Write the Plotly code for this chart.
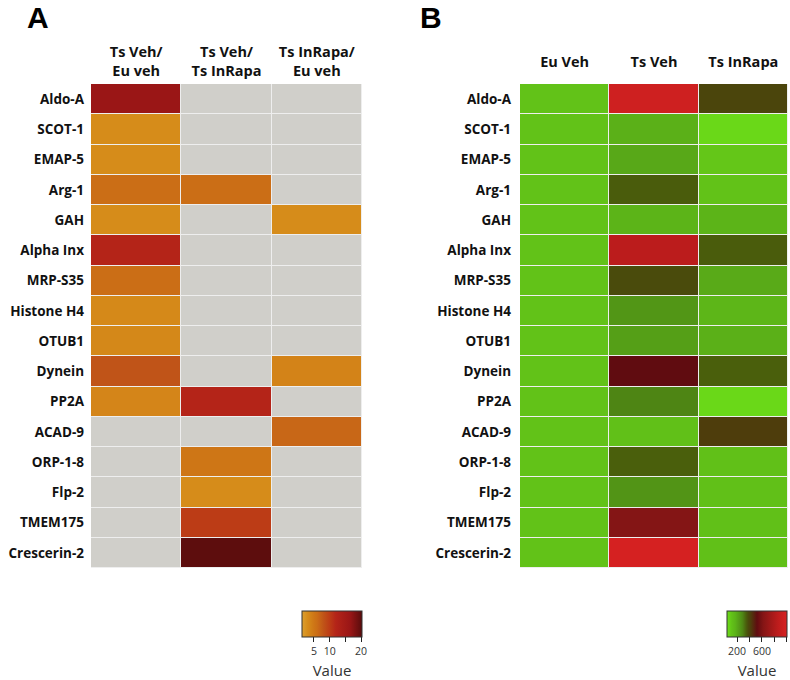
import plotly.graph_objects as go

genes = ["Aldo-A", "SCOT-1", "EMAP-5", "Arg-1", "GAH", "Alpha Inx", "MRP-S35",
         "Histone H4", "OTUB1", "Dynein", "PP2A", "ACAD-9", "ORP-1-8", "Flp-2",
         "TMEM175", "Crescerin-2"]

cols_a = ["Ts Veh/<br>Eu veh", "Ts Veh/<br>Ts InRapa", "Ts InRapa/<br>Eu veh"]
a_tsveh_euveh = [16.5, 3, 3, 6, 3, 12, 6, 3.3, 3.4, 8, 3.6, None, None, None, None, None]
a_tsveh_tsinrapa = [None, None, None, 6, None, None, None, None, None, None, 12, None, 5, 3, 10, 20]
a_tsinrapa_euveh = [None, None, None, None, 3, None, None, None, None, 3.8, None, 6.5, None, None, None, None]

cols_b = ["Eu Veh", "Ts Veh", "Ts InRapa"]
b_euveh = [110] * 16
b_tsveh = [950, 180, 200, 350, 170, 850, 380, 250, 225, 520, 290, 120, 345, 255, 620, 990]
b_tsinrapa = [395, 55, 100, 110, 170, 350, 195, 160, 180, 345, 55, 420, 120, 120, 120, 120]

a_ticks = [5, 10, 15, 20]
a_ticktext = ["5", "10", "", "20"]
b_ticks = [200, 400, 600, 800, 1000]
b_ticktext = ["200", "", "600", "", ""]

zA = [[a_tsveh_euveh[i], a_tsveh_tsinrapa[i], a_tsinrapa_euveh[i]] for i in range(len(genes))]
naA = [[1 if v is None else None for v in row] for row in zA]
zB = [[b_euveh[i], b_tsveh[i], b_tsinrapa[i]] for i in range(len(genes))]

scaleA = [[0, '#DCA030'], [0.094, '#D68C1A'], [0.2, '#CE7616'], [0.25, '#CB6E16'],
          [0.356, '#C05418'], [0.46, '#BC3C16'], [0.565, '#B42418'], [0.8, '#9A1616'],
          [1, '#580C0C']]
scaleB = [[0, '#72E020'], [0.019, '#6AD818'], [0.076, '#62C218'], [0.138, '#5CB418'],
          [0.169, '#58A818'], [0.221, '#529616'], [0.263, '#4E8414'], [0.32, '#4A5E0C'],
          [0.356, '#4A4A0C'], [0.398, '#4E3C0C'], [0.5, '#600C10'], [0.605, '#851515'],
          [0.844, '#BC1C1C'], [1, '#D82222']]

W, H = 790, 680


def px(x):
    return x / W


def py(y):
    return 1 - y / H


FONT = "Open Sans"
rowfont = dict(family=FONT, size=13.5, color="#111111", weight="bold")
colfont = dict(family=FONT, size=14.5, color="#111111", weight="bold")


def cbar(xc, tv, tt):
    return dict(orientation="h", lenmode="pixels", len=60,
                thickness=26, x=px(xc), xanchor="center",
                y=py(611), yanchor="top", xpad=0, ypad=0,
                outlinewidth=1, outlinecolor="#333333",
                tickvals=tv, ticktext=tt,
                ticks="outside", ticklen=5, tickcolor="#222222",
                tickfont=dict(family=FONT, size=10.5, color="#333333"),
                title=dict(text="Value", side="bottom",
                           font=dict(family=FONT, size=15, color="#333333")))


fig = go.Figure()
fig.add_trace(go.Heatmap(z=naA, x=cols_a, y=genes, xaxis="x", yaxis="y",
                         colorscale=[[0, '#D0CFCA'], [1, '#D0CFCA']], showscale=False,
                         xgap=1, ygap=1, hoverinfo="skip"))
fig.add_trace(go.Heatmap(z=zA, x=cols_a, y=genes, xaxis="x", yaxis="y",
                         colorscale=scaleA, zmin=1.2, zmax=20.3, xgap=1, ygap=1,
                         colorbar=cbar(332, a_ticks, a_ticktext)))
fig.add_trace(go.Heatmap(z=zB, x=cols_b, y=genes, xaxis="x2", yaxis="y2",
                         colorscale=scaleB, zmin=37, zmax=1005, xgap=1, ygap=1,
                         colorbar=cbar(757, b_ticks, b_ticktext)))

common = dict(showgrid=False, zeroline=False, ticks="", automargin=False)
fig.update_layout(
    width=W, height=H, margin=dict(l=0, r=0, t=0, b=0, autoexpand=False),
    paper_bgcolor="white", plot_bgcolor="#EEEEEE",
    font=dict(family=FONT, size=13, color="#111111"),
    xaxis=dict(domain=[px(91), px(362)], side="top", ticklabelstandoff=4, anchor="y",
               tickfont=colfont, **common),
    yaxis=dict(domain=[py(568), py(84)], autorange="reversed", ticklabelstandoff=6, anchor="x",
               tickfont=rowfont, **common),
    xaxis2=dict(domain=[px(520), px(788)], side="top", ticklabelstandoff=13, anchor="y2",
                tickfont=colfont, **common),
    yaxis2=dict(domain=[py(568), py(84)], autorange="reversed", ticklabelstandoff=8, anchor="x2",
                tickfont=rowfont, **common),
    annotations=[
        dict(text="<b>A</b>", x=px(38), y=1, xref="paper", yref="paper",
             xanchor="center", yanchor="top", showarrow=False, borderpad=0,
             font=dict(family="Liberation Sans", size=30, color="black")),
        dict(text="<b>B</b>", x=px(431), y=1, xref="paper", yref="paper",
             xanchor="center", yanchor="top", showarrow=False, borderpad=0,
             font=dict(family="Liberation Sans", size=30, color="black")),
    ],
)

fig.write_html("out.html", config={"displayModeBar": False},
               post_script="document.body.style.margin='0px';")
